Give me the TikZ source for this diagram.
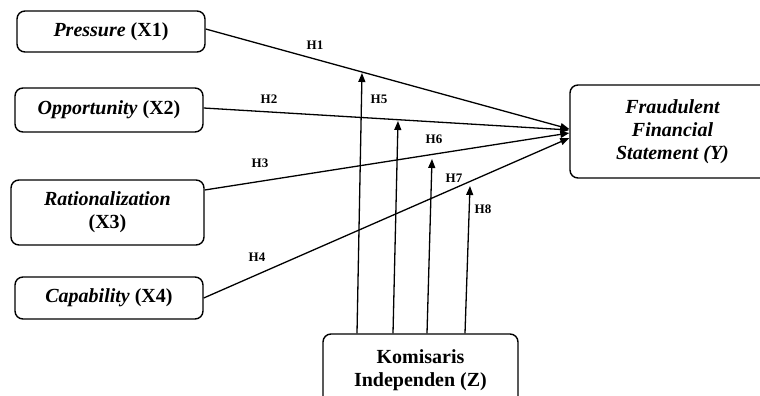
\documentclass[tikz,border=0pt]{standalone}
\usepackage{fontspec}
\setmainfont{Liberation Serif}
\usetikzlibrary{arrows.meta}
\begin{document}
\begin{tikzpicture}[x=1pt,y=-1pt,
  varbox/.style={draw, line width=1.4pt, rounded corners=8pt, align=center,
    inner sep=0pt, font=\fontsize{20}{23}\selectfont\bfseries},
  conn/.style={line width=1.3pt, -{Triangle[length=9pt,width=7pt]}},
  hlab/.style={font=\fontsize{13}{15}\selectfont\bfseries, inner sep=0pt}]
\useasboundingbox (0,0) rectangle (760,396);
\node[varbox, minimum width=188pt, minimum height=41pt] (p) at (111,31.5) {\itshape Pressure \upshape(X1)};
\node[varbox, minimum width=188pt, minimum height=44pt] (o) at (109,110) {\itshape Opportunity \upshape(X2)};
\node[varbox, minimum width=193pt, minimum height=65pt] (r) at (107.5,212.5) {\itshape Rationalization\\ \upshape(X3)};
\node[varbox, minimum width=188pt, minimum height=42pt] (c) at (109,298) {\itshape Capability \upshape(X4)};
\node[varbox, minimum width=205pt, minimum height=93pt] (y) at (672.5,131.5) {\itshape Fraudulent\\ \itshape Financial\\ \itshape Statement (Y)};
\node[varbox, minimum width=195pt, minimum height=72pt] (z) at (420.5,370) {Komisaris\\ Independen (Z)};
\coordinate (t5) at (362,73);
\coordinate (t6) at (398,121);
\coordinate (t7) at (432,159);
\coordinate (t8) at (470,186);
\draw[conn] ([yshift=2.5pt]p.east) -- ([yshift=2.5pt]y.west);
\draw[conn] ([yshift=2pt]o.east) -- ([yshift=1.5pt]y.west);
\draw[conn] ([yshift=22.5pt]r.east) -- ([yshift=-1.5pt]y.west);
\draw[conn] (c.east) -- ([yshift=-6.5pt]y.west);
\draw[conn] ([xshift=-63.5pt]z.north) -- (t5);
\draw[conn] ([xshift=-27.5pt]z.north) -- (t6);
\draw[conn] ([xshift=6.5pt]z.north) -- (t7);
\draw[conn] ([xshift=44.5pt]z.north) -- (t8);
\node[hlab] (h1) at (315,45) {H1};
\node[hlab] (h2) at (269,99) {H2};
\node[hlab] (h3) at (260,163) {H3};
\node[hlab] (h4) at (257,257) {H4};
\node[hlab] (h5) at (379,99) {H5};
\node[hlab] (h6) at (434,139) {H6};
\node[hlab] (h7) at (454,178) {H7};
\node[hlab] (h8) at (483,209) {H8};
\end{tikzpicture}
\end{document}
